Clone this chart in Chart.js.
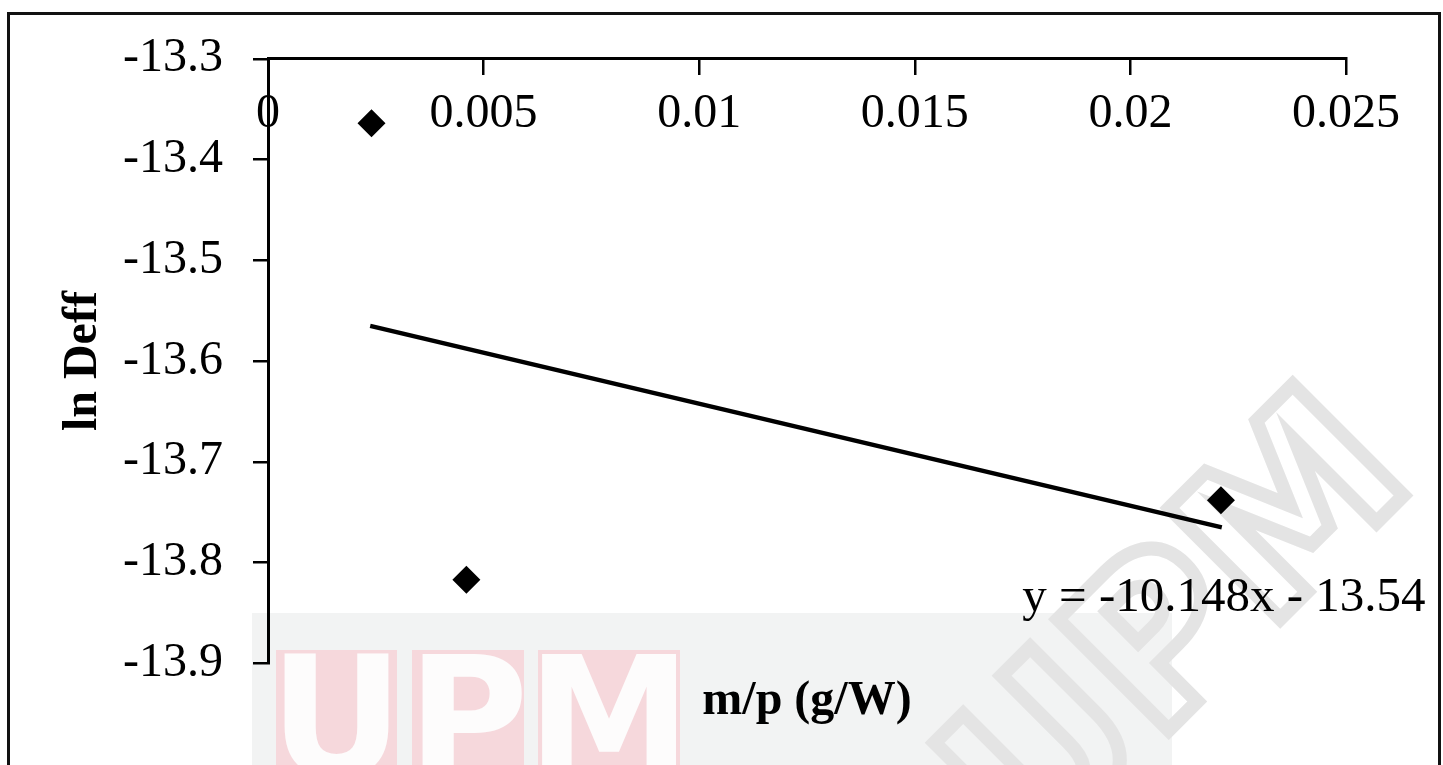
<!DOCTYPE html>
<html>
<head>
<meta charset="utf-8">
<script src="https://cdn.jsdelivr.net/npm/chart.js@4.4.1/dist/chart.umd.min.js"></script>
<style>
  body { margin: 0; background: #fff; overflow: hidden; }
  #wrap { position: absolute; left: 0; top: 0; width: 1443px; height: 765px; }
  #frame { position: absolute; left: 7px; top: 12px; width: 1434px; height: 800px;
           box-sizing: border-box; border: 3px solid #111; border-bottom: none; pointer-events: none; }
</style>
</head>
<body>
<div id="wrap"><canvas id="myChart"></canvas></div>
<div id="frame"></div>
<script>
// values
const xValues = [0.0024, 0.0046, 0.0221];
const yValues = [-13.364, -13.817, -13.738];
const trendX = [0.00237, 0.02212];
const trendY = [-13.565, -13.765];
const xTicks = [0, 0.005, 0.01, 0.015, 0.02, 0.025];
const yTicks = [-13.3, -13.4, -13.5, -13.6, -13.7, -13.8, -13.9];
const xTitle = 'm/p (g/W)';
const yTitle = 'ln Deff';
const equation = 'y = -10.148x - 13.54';
const equationAt = [0.02217, -13.835];

const serif = '"Liberation Serif", "Times New Roman", serif';

// faint UPM watermark behind the chart
const watermark = {
    id: 'watermark',
    beforeDraw(chart) {
        const c = chart.ctx;
        c.save();
        c.fillStyle = '#f2f3f3';
        c.fillRect(252, 613, 920, 160);
        const blocks = [[276, 121, 'U'], [412, 112, 'P'], [538, 142, 'M']];
        c.font = 'bold 165px "DejaVu Sans", sans-serif';
        c.textAlign = 'center';
        c.textBaseline = 'top';
        for (let b of blocks) {
            c.fillStyle = '#f6d8dc';
            c.fillRect(b[0], 650, b[1], 120);
            c.fillStyle = '#fdfcfc';
            c.fillText(b[2], b[0] + b[1] / 2, 650);
        }
        c.translate(1185, 635);
        c.rotate(-45 * Math.PI / 180);
        c.font = 'bold 215px "DejaVu Sans", sans-serif';
        c.textBaseline = 'middle';
        c.lineWidth = 14;
        c.strokeStyle = '#e4e4e4';
        c.strokeText('UPM', 0, 0);
        c.restore();
    }
};

// trendline equation text
const equationLabel = {
    id: 'equationLabel',
    afterDatasetsDraw(chart) {
        const c = chart.ctx;
        const px = chart.scales.x.getPixelForValue(equationAt[0]);
        const py = chart.scales.y.getPixelForValue(equationAt[1]);
        c.save();
        c.font = '49px ' + serif;
        c.fillStyle = '#000';
        c.textAlign = 'center';
        c.textBaseline = 'middle';
        c.fillText(equation, px, py);
        c.restore();
    }
};

const ctx = document.getElementById('myChart');

new Chart(ctx, {
    type: 'scatter',
    data: {
        datasets: [{
            label: 'data',
            data: xValues.map((x, i) => ({ x: x, y: yValues[i] })),
            pointStyle: 'rectRot',
            pointRadius: 14,
            backgroundColor: '#000',
            borderColor: '#000',
            borderWidth: 0
        },
        {
            label: 'trend',
            data: trendX.map((x, i) => ({ x: x, y: trendY[i] })),
            showLine: true,
            borderColor: '#000',
            borderWidth: 4.5,
            pointRadius: 0
        }]
    },
    options: {
        responsive: true,
        maintainAspectRatio: false,
        animation: false,
        layout: { padding: { left: 50, top: 58, right: 97, bottom: 15 } },
        plugins: {
            legend: { display: false },
            tooltip: { enabled: false },
            title: {
                display: true,
                text: xTitle,
                position: 'bottom',
                fullSize: false,
                color: '#000',
                font: { family: serif, size: 48, weight: 'bold' },
                padding: { top: 9, bottom: 20 }
            }
        },
        scales: {
            x: {
                type: 'linear',
                min: 0,
                max: 0.025,
                position: { y: -13.3 },
                afterBuildTicks: s => { s.ticks = xTicks.map(v => ({ value: v })); },
                afterFit: s => { s.height = 0; },
                ticks: {
                    color: '#000',
                    font: { family: serif, size: 48 },
                    padding: 12,
                    maxRotation: 0,
                    autoSkip: false,
                    callback: v => String(v)
                },
                grid: { drawOnChartArea: false, drawTicks: true, tickLength: 15, color: '#000', lineWidth: 2.5 },
                border: { display: true, color: '#000', width: 3 }
            },
            y: {
                type: 'linear',
                min: -13.9,
                max: -13.3,
                position: 'left',
                afterBuildTicks: s => { s.ticks = yTicks.map(v => ({ value: v })); },
                afterFit: s => { s.width = 218; },
                ticks: {
                    color: '#000',
                    font: { family: serif, size: 48 },
                    padding: 30,
                    autoSkip: false,
                    callback: v => v.toFixed(1)
                },
                grid: { drawOnChartArea: false, drawTicks: true, tickLength: 15, color: '#000', lineWidth: 2.5 },
                border: { display: true, color: '#000', width: 3 },
                title: {
                    display: true,
                    text: yTitle,
                    color: '#000',
                    font: { family: serif, size: 48, weight: 'bold' },
                    padding: { top: 5, bottom: 0 }
                }
            }
        }
    },
    plugins: [watermark, equationLabel]
});
</script>
</body>
</html>
